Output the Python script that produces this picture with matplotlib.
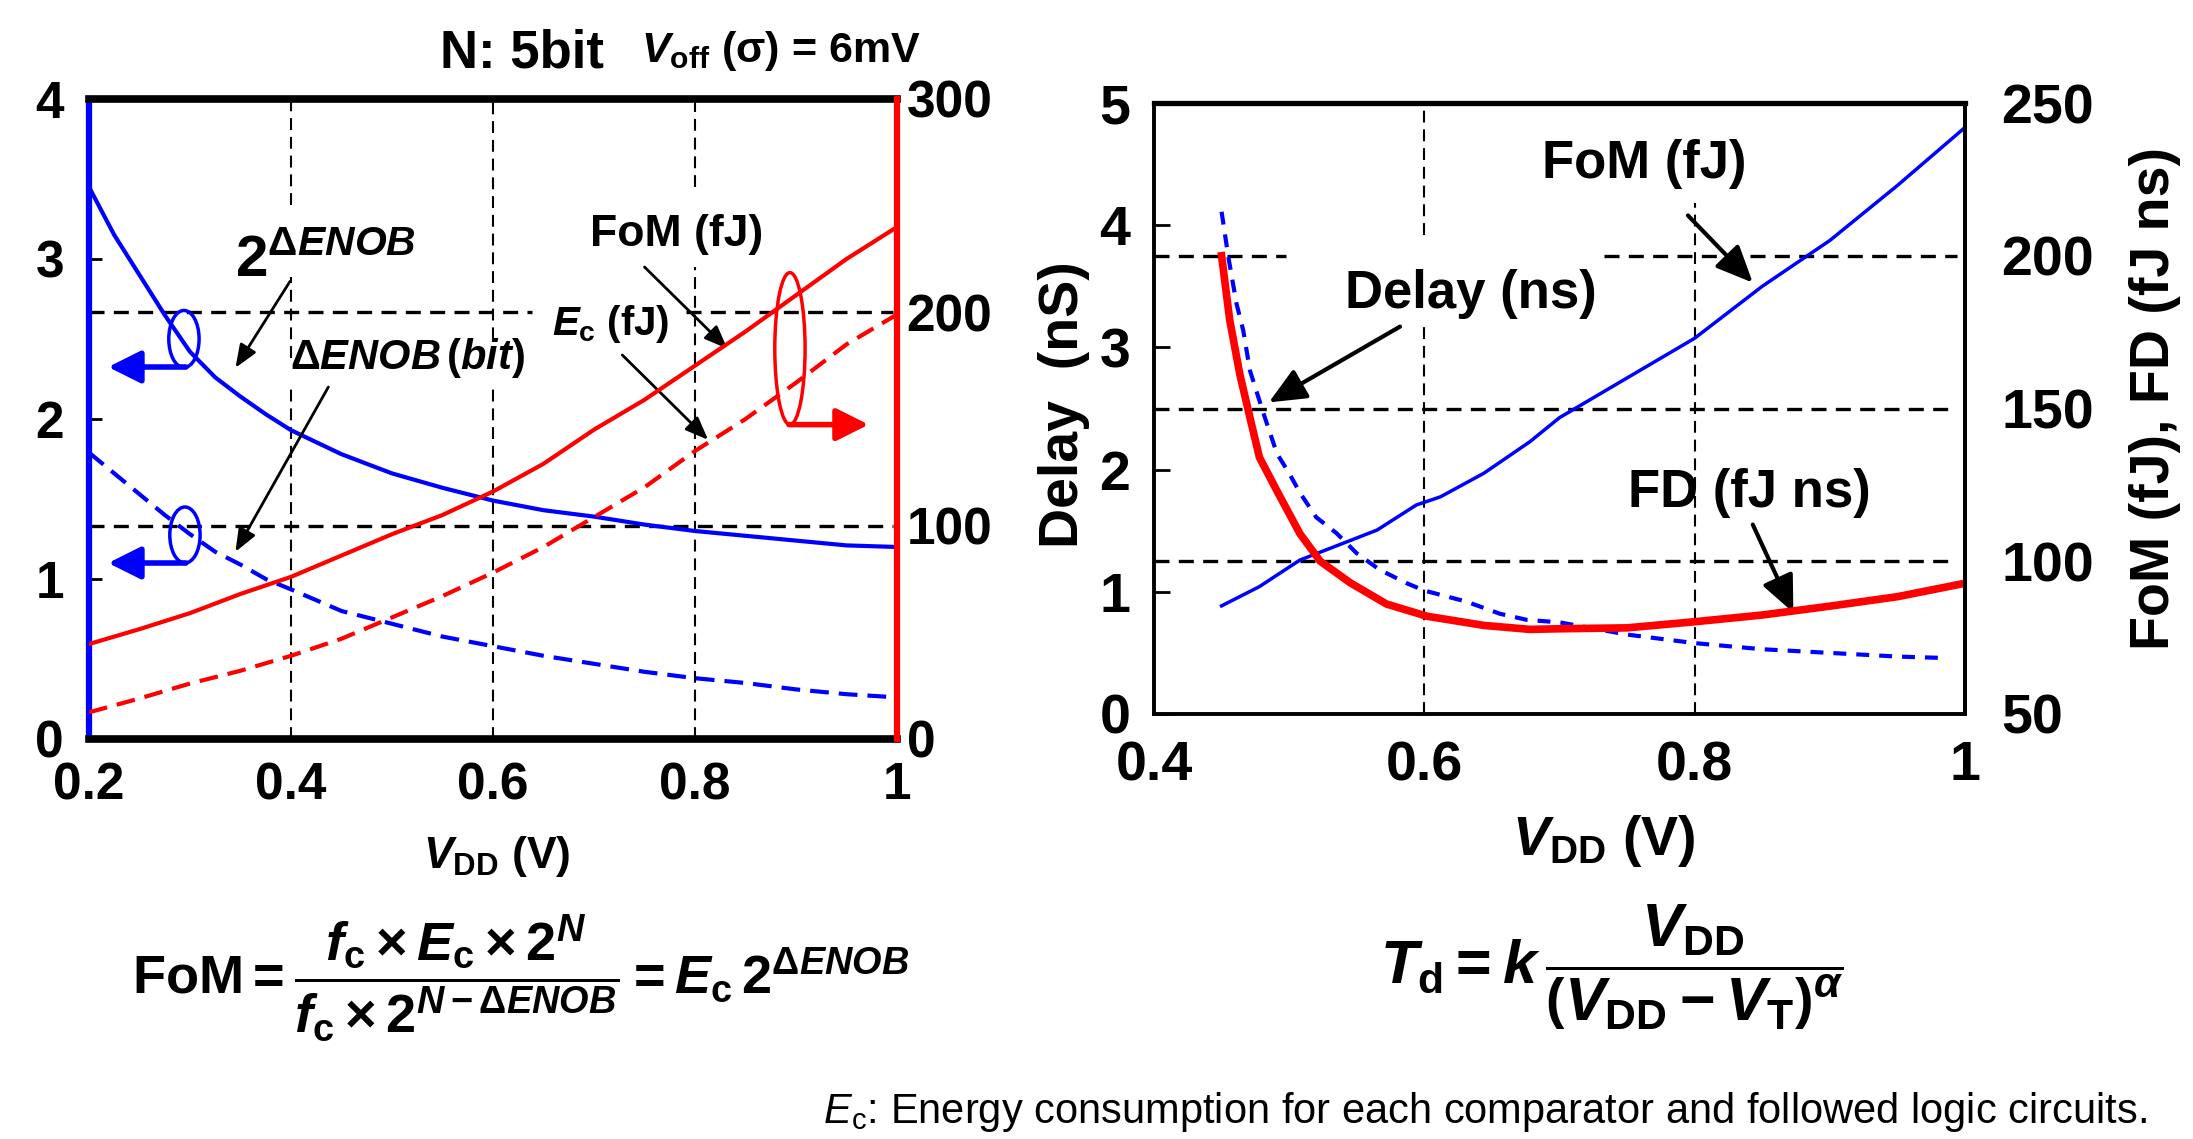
import matplotlib
matplotlib.use("Agg")
import matplotlib.pyplot as plt
from matplotlib.patches import Ellipse

plt.rcParams["font.family"] = "Liberation Sans"
plt.rcParams["font.weight"] = "bold"
plt.rcParams["mathtext.fontset"] = "custom"
plt.rcParams["mathtext.rm"] = "Liberation Sans:bold"
plt.rcParams["mathtext.bf"] = "Liberation Sans:bold"
plt.rcParams["mathtext.it"] = "Liberation Sans:italic:bold"
plt.rcParams["mathtext.sf"] = "Liberation Sans:style=italic:weight=normal"
plt.rcParams["mathtext.cal"] = "Liberation Sans:weight=normal"

# ---- left panel data ----
vdd_enob = [0.2, 0.225, 0.25, 0.275, 0.3, 0.325, 0.35, 0.375, 0.4, 0.45, 0.5, 0.55, 0.6,
            0.65, 0.7, 0.75, 0.8, 0.85, 0.9, 0.95, 1.0]
d_enob_bit = [1.79, 1.66, 1.53, 1.40, 1.28, 1.17, 1.09, 1.00, 0.935, 0.80, 0.72, 0.64, 0.58,
              0.52, 0.47, 0.42, 0.38, 0.35, 0.31, 0.28, 0.26]
pow2_d_enob = [3.45, 3.15, 2.90, 2.65, 2.42, 2.26, 2.14, 2.03, 1.93, 1.78, 1.66, 1.57, 1.49,
               1.43, 1.39, 1.34, 1.30, 1.27, 1.24, 1.21, 1.20]
vdd_energy = [0.2, 0.25, 0.3, 0.35, 0.4, 0.45, 0.5, 0.55, 0.6, 0.65, 0.7, 0.75, 0.8, 0.85, 0.9, 0.95, 1.0]
ec_fj = [12.5, 19, 26, 32, 39, 47, 57, 67, 78, 90, 104, 118, 135, 150, 167, 185, 199]
fom_fj_left = [44.5, 51.5, 59, 68, 76, 86, 96, 105, 116, 129, 145, 159, 175, 191, 208, 225, 240]
left_xticks = [0.2, 0.4, 0.6, 0.8, 1.0]
left_xticklabels = ["0.2", "0.4", "0.6", "0.8", "1"]

# ---- right panel data ----
vdd_delay = [0.45, 0.455, 0.461, 0.466, 0.471, 0.481, 0.491, 0.5, 0.508, 0.52, 0.535, 0.55, 0.567,
             0.587, 0.6, 0.631, 0.656, 0.676, 0.7, 0.75, 0.8, 0.85, 0.9, 0.95, 0.98]
delay_ns = [4.11, 3.74, 3.36, 3.14, 2.81, 2.46, 2.13, 1.97, 1.81, 1.61, 1.48, 1.315, 1.18,
            1.07, 1.01, 0.92, 0.82, 0.77, 0.75, 0.65, 0.58, 0.53, 0.50, 0.47, 0.46]
vdd_fd = [0.45, 0.456, 0.4636, 0.471, 0.478, 0.491, 0.508, 0.523, 0.545, 0.572, 0.602, 0.644,
          0.678, 0.7, 0.75, 0.8, 0.85, 0.9, 0.95, 1.0]
fd_fjns = [200, 179, 161, 147, 134, 123, 109, 100, 93, 86, 82, 79, 77.7, 77.9, 78.2, 80.2,
           82.4, 85.3, 88.4, 92.8]
vdd_fom = [0.45, 0.478, 0.508, 0.54, 0.565, 0.594, 0.612, 0.644, 0.678, 0.7, 0.75, 0.8, 0.85,
           0.9, 0.95, 1.0]
fom_fj_right = [85.4, 91.7, 100.4, 105.9, 110.2, 118.4, 121.1, 128.8, 139.1, 147, 160, 173,
                190, 205, 223, 242]
right_xticks = [0.4, 0.6, 0.8, 1.0]
right_xticklabels = ["0.4", "0.6", "0.8", "1"]

W, H = 2193, 1139
fig = plt.figure(figsize=(W / 100, H / 100), dpi=100)

grid_v = dict(colors="black", lw=1.5, linestyles=(0, (5.7, 3.3)), zorder=1)
grid_h = dict(colors="black", lw=2.4, linestyles=(0, (4.5, 2.8)), zorder=1)
black_arrow = dict(arrowstyle="-|>,head_length=0.7,head_width=0.28", color="black", lw=2,
                   mutation_scale=20, shrinkA=0, shrinkB=0)


def vgrid(ax, x, spans):
    # dashed vertical grid line broken into pieces (gaps where labels sit)
    ax.vlines([x] * len(spans), [s[0] for s in spans], [s[1] for s in spans], **grid_v)


def hgrid(ax, y, spans):
    ax.hlines([y] * len(spans), [s[0] for s in spans], [s[1] for s in spans], **grid_h)


# ================= left panel =================
ax1 = fig.add_axes([89 / W, 1 - 739 / H, 808 / W, 640 / H])
ax1.set_xlim(0.2, 1.0)
ax1.set_ylim(0, 4)
ax1r = ax1.twinx()
ax1r.set_ylim(0, 300)

vgrid(ax1, 0.4, [(0, 2.21), (2.38, 2.89), (3.34, 4)])
vgrid(ax1, 0.6, [(0, 2.21), (2.38, 4)])
vgrid(ax1, 0.8, [(0, 2.95), (3.45, 4)])
hgrid(ax1, 8 / 3, [(0.2, 0.639), (0.791, 0.996)])
hgrid(ax1, 4 / 3, [(0.2, 0.996)])

ax1.plot(vdd_enob, pow2_d_enob, color="blue", lw=3, zorder=3)
ax1.plot(vdd_enob, d_enob_bit, color="blue", lw=3, linestyle=(0, (4.5, 2.4)), zorder=3)
ax1r.plot(vdd_energy, fom_fj_left, color="red", lw=3)
ax1r.plot(vdd_energy, ec_fj, color="red", lw=3, linestyle=(0, (4.5, 2.4)))

ax1.set_xticks(left_xticks)
ax1.set_xticklabels(left_xticklabels)
ax1.set_yticks([0, 1, 2, 3, 4])
ax1r.set_yticks([0, 100, 200, 300])
ax1.tick_params(axis="y", direction="in", length=9, width=2, labelsize=37, pad=18)
ax1.tick_params(axis="x", length=0, labelsize=37, pad=16)
ax1r.tick_params(axis="y", length=0, labelsize=37, pad=7)

for side in ("top", "bottom"):
    ax1.spines[side].set_linewidth(5.5)
    ax1r.spines[side].set_visible(False)
ax1.spines["left"].set_color("blue")
ax1.spines["left"].set_linewidth(4.5)
ax1.spines["right"].set_visible(False)
ax1r.spines["left"].set_visible(False)
ax1r.spines["right"].set_color("red")
ax1r.spines["right"].set_linewidth(4.5)

# blue / red ellipse markers pointing to their axis
ax1.add_patch(Ellipse((0.294, 2.50), 0.030, 0.357, fill=False, ec="blue", lw=2.5, zorder=4))
ax1.add_patch(Ellipse((0.295, 1.275), 0.030, 0.35, fill=False, ec="blue", lw=2.5, zorder=4))
ax1.add_patch(Ellipse((0.894, 2.44), 0.030, 0.95, fill=False, ec="red", lw=2.5, zorder=4))
side_arrow = dict(arrowstyle="-|>,head_length=0.9,head_width=0.45", lw=4, mutation_scale=22,
                  shrinkA=0, shrinkB=0)
ax1.annotate("", xy=(0.219, 2.325), xytext=(0.296, 2.325), arrowprops=dict(color="blue", **side_arrow))
ax1.annotate("", xy=(0.219, 1.10), xytext=(0.296, 1.10), arrowprops=dict(color="blue", **side_arrow))
ax1.annotate("", xy=(0.972, 1.965), xytext=(0.893, 1.965), arrowprops=dict(color="red", **side_arrow))

ax1.text(0.345, 2.89, r"$2^{\Delta ENOB}$", fontsize=42, va="baseline")
ax1.text(0.399, 2.31, r"$\Delta ENOB\,(bit)$", fontsize=30, va="baseline")
ax1.text(0.696, 3.08, "FoM (fJ)", fontsize=32, va="baseline")
ax1.text(0.658, 2.525, r"$E_{\rm c}$ (fJ)", fontsize=29, va="baseline")
ax1.annotate("", xy=(0.345, 2.32), xytext=(0.399, 2.86), arrowprops=black_arrow)
ax1.annotate("", xy=(0.345, 1.17), xytext=(0.437, 2.20), arrowprops=black_arrow)
ax1.annotate("", xy=(0.832, 2.44), xytext=(0.750, 2.95), arrowprops=black_arrow)
ax1.annotate("", xy=(0.813, 1.87), xytext=(0.728, 2.40), arrowprops=black_arrow)

fig.text(440 / W, 1 - 67 / H, "N: 5bit", fontsize=38, ha="left", va="baseline")
fig.text(641 / W, 1 - 62 / H, r"$V_{\rm off}$ (σ) = 6mV", fontsize=31, ha="left", va="baseline")
fig.text(497 / W, 1 - 868 / H, r"$V_{\rm DD}$ (V)", fontsize=32, ha="center", va="baseline")

# ================= right panel =================
ax2 = fig.add_axes([1154 / W, 1 - 714 / H, 811 / W, 611 / H])
ax2.set_xlim(0.4, 1.0)
ax2.set_ylim(0, 5)
ax2r = ax2.twinx()
ax2r.set_ylim(50, 250)

vgrid(ax2, 0.6, [(0, 3.2), (3.92, 5)])
vgrid(ax2, 0.8, [(0, 4.18)])
hgrid(ax2, 3.75, [(0.4, 0.498), (0.733, 0.994)])
hgrid(ax2, 2.5, [(0.4, 0.994)])
hgrid(ax2, 1.25, [(0.4, 0.994)])

ax2.plot(vdd_delay, delay_ns, color="blue", lw=3, linestyle=(0, (3.1, 2.4)), zorder=3)
ax2r.plot(vdd_fom, fom_fj_right, color="blue", lw=2.5)
ax2r.plot(vdd_fd, fd_fjns, color="red", lw=5.5)

ax2.set_xticks(right_xticks)
ax2.set_xticklabels(right_xticklabels)
ax2.set_yticks([0, 1, 2, 3, 4, 5])
ax2r.set_yticks([50, 100, 150, 200, 250])
ax2.tick_params(axis="y", direction="in", length=11.5, width=2, labelsize=40, pad=17)
ax2.tick_params(axis="x", length=0, labelsize=40, pad=19)
ax2r.tick_params(axis="y", length=0, labelsize=40, pad=26)
for side in ("left", "bottom", "right"):
    ax2.spines[side].set_linewidth(2.8)
ax2.spines["top"].set_linewidth(3.8)
for side in ("left", "bottom", "top"):
    ax2r.spines[side].set_visible(False)
ax2r.spines["right"].set_linewidth(2.8)

right_arrow = dict(arrowstyle="-|>,head_length=0.9,head_width=0.4", color="black", lw=3,
                   mutation_scale=25, shrinkA=0, shrinkB=0)
ax2.text(0.687, 4.39, "FoM (fJ)", fontsize=38, va="baseline")
ax2.text(0.541, 3.32, "Delay (ns)", fontsize=38, va="baseline")
ax2.text(0.751, 1.69, "FD (fJ ns)", fontsize=38, va="baseline")
ax2.annotate("", xy=(0.843, 3.53), xytext=(0.795, 4.08), arrowprops=right_arrow)
ax2.annotate("", xy=(0.485, 2.55), xytext=(0.582, 3.17), arrowprops=right_arrow)
ax2.annotate("", xy=(0.873, 0.83), xytext=(0.843, 1.55), arrowprops=right_arrow)

fig.text(1604 / W, 1 - 855 / H, r"$V_{\rm DD}$ (V)", fontsize=40, ha="center", va="baseline")
fig.text(1064 / W, 1 - 405 / H, "Delay  (nS)", fontsize=40, rotation=90, ha="center", va="center")
fig.text(2155 / W, 1 - 398 / H, "FoM (fJ), FD (fJ ns)", fontsize=40, rotation=90, ha="center", va="center")

# ================= equations and note =================
fig.text(521 / W, 1 - 978 / H,
         r"$\mathrm{FoM} = \dfrac{f_{\rm c} \times E_{\rm c} \times 2^{N}}{f_{\rm c} \times 2^{N-\Delta ENOB}}"
         r" = E_{\rm c}\,2^{\Delta ENOB}$",
         fontsize=39, ha="center", va="center")
fig.text(1612 / W, 1 - 967 / H,
         r"$T_{\rm d} = k\,\dfrac{V_{\rm DD}}{\left(V_{\rm DD}-V_{\rm T}\right)^{\alpha}}$",
         fontsize=44, ha="center", va="center")
fig.text(2147 / W, 1 - 1123 / H,
         r"$\mathsf{E}_{\mathcal{c}}$: Energy consumption for each comparator and followed logic circuits.",
         fontsize=30, fontweight="normal", ha="right", va="baseline")

fig.savefig("out.png", dpi=100)
